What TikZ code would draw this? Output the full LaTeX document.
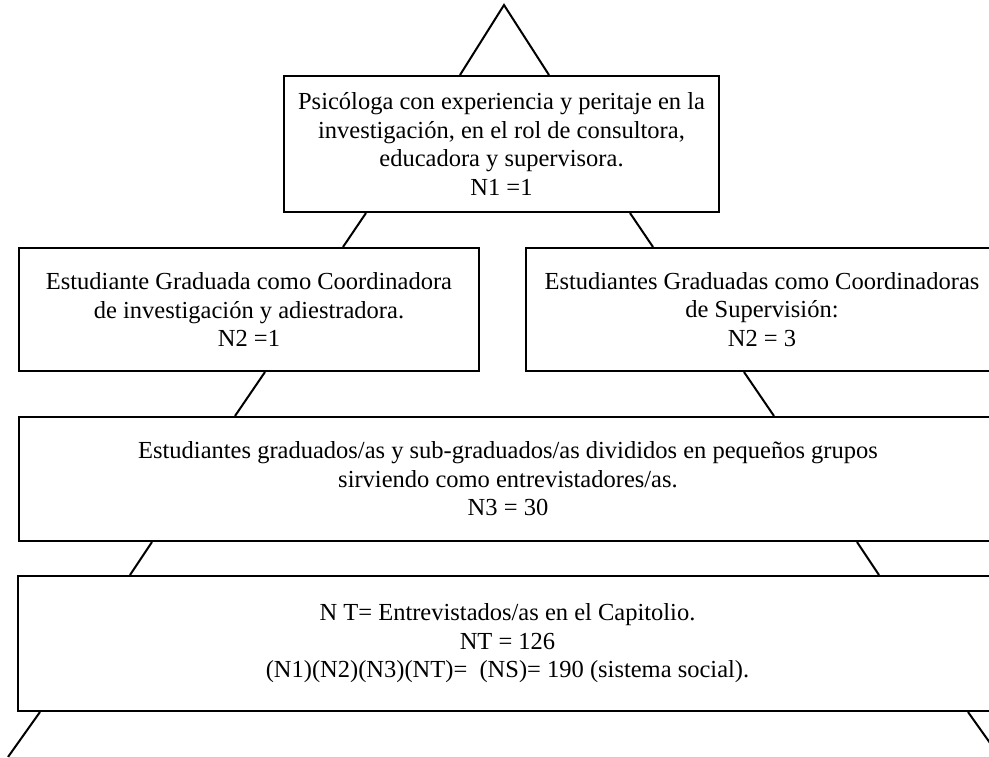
\documentclass[tikz,border=0pt]{standalone}
\usepackage{fontspec}
\setmainfont{Liberation Serif}
\usetikzlibrary{calc}
\begin{document}
\begin{tikzpicture}[x=1pt,y=-1pt,
  boxnode/.style={draw, line width=2pt, anchor=north west, inner sep=0pt, align=center, font=\fontsize{24.5}{28.5}\selectfont},
  link/.style={line width=2pt}]
\useasboundingbox (0,0) rectangle (989,758);
\clip (0,0) rectangle (989,758);
\node[boxnode, minimum width=435pt, minimum height=136pt] (b1) at (283,75)
  {Psicóloga con experiencia y peritaje en la\\investigación, en el rol de consultora,\\educadora y supervisora.\\N1 =1};
\node[boxnode, minimum width=460pt, minimum height=123pt] (b2l) at (18,247)
  {Estudiante Graduada como Coordinadora\\de investigación y adiestradora.\\N2 =1};
\node[boxnode, minimum width=472pt, minimum height=123pt] (b2r) at (525,247)
  {Estudiantes Graduadas como Coordinadoras\\de Supervisión:\\N2 = 3};
\node[boxnode, minimum width=978pt, minimum height=124pt] (b3) at (18,416)
  {Estudiantes graduados/as y sub-graduados/as divididos en pequeños grupos\\sirviendo como entrevistadores/as.\\N3 = 30};
\node[boxnode, minimum width=979pt, minimum height=135pt] (b4) at (17,575)
  {N T= Entrevistados/as en el Capitolio.\\NT = 126\\(N1)(N2)(N3)(NT)=~~(NS)= 190 (sistema social).};
% top triangle
\coordinate (apex) at (504,5);
\draw[link, line join=miter] ([xshift=177pt]b1.north west) -- (apex) -- ([xshift=266pt]b1.north west);
% connectors
\draw[link] ([xshift=83pt]b1.south west) -- ([xshift=325pt]b2l.north west);
\draw[link] ([xshift=347pt]b1.south west) -- ([xshift=128pt]b2r.north west);
\draw[link] ([xshift=247pt]b2l.south west) -- ([xshift=217pt]b3.north west);
\draw[link] ([xshift=219pt]b2r.south west) -- ([xshift=756pt]b3.north west);
\draw[link] ([xshift=134pt]b3.south west) -- ([xshift=113pt]b4.north west);
\draw[link] ([xshift=839pt]b3.south west) -- ([xshift=862pt]b4.north west);
% bottom
\coordinate (bl) at (8,757);
\coordinate (br) at (1000,757);
\draw[link] ([xshift=23pt]b4.south west) -- (bl);
\draw[link] ([xshift=951pt]b4.south west) -- (br);
\draw[gray!40, line width=1pt] (bl) -- (br);
\end{tikzpicture}
\end{document}
